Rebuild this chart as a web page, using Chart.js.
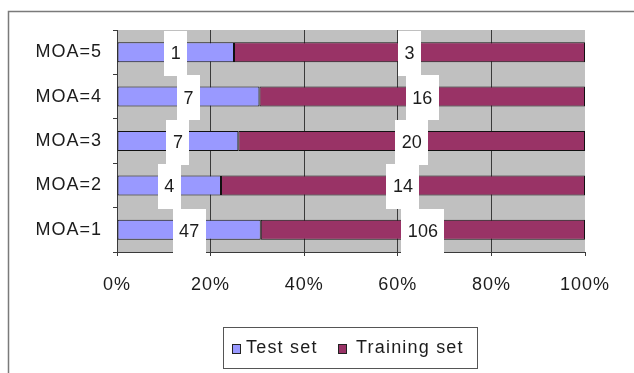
<!DOCTYPE html>
<html>
<head>
<meta charset="utf-8">
<script src="https://cdn.jsdelivr.net/npm/chart.js@4.4.1/dist/chart.umd.min.js"></script>
<style>
  html, body { margin: 0; padding: 0; background: #fff; }
  #wrap { width: 634px; height: 373px; position: relative; }
</style>
</head>
<body>
<div id="wrap"><canvas id="c" width="634" height="373"></canvas></div>
<script>
// Categories, top to bottom
const categories = ['MOA=5', 'MOA=4', 'MOA=3', 'MOA=2', 'MOA=1'];
// Compound counts per MOA class
const testSet = [1, 7, 7, 4, 47];
const trainingSet = [3, 16, 20, 14, 106];
// Axis tick labels (percent of class total)
const xTicks = [0, 20, 40, 60, 80, 100];

const seriesNames = ['Test set', 'Training set'];
const seriesColors = ['#9999FF', '#993366'];
const counts = [testSet, trainingSet];

// share of each class total, so the bars stack to 100 %
const totals = categories.map((_, i) => testSet[i] + trainingSet[i]);
const shares = counts.map(arr => arr.map((v, i) => v / totals[i] * 100));

const FONT = "'Liberation Sans', Arial, sans-serif";
const TEXT = '#1c1c1c';
const LINE = '#3a3a3a';

function spacing(chart) { chart.ctx.letterSpacing = '1px'; }

const framePlugin = {
  id: 'frame',
  beforeLayout(chart) { spacing(chart); },
  beforeDraw(chart) {
    spacing(chart);
    const ctx = chart.ctx, a = chart.chartArea;
    ctx.save();
    ctx.fillStyle = '#ffffff';
    ctx.fillRect(0, 0, chart.width, chart.height);
    // outer chart frame (top and left edges)
    ctx.strokeStyle = '#7a7a7a';
    ctx.lineWidth = 1.5;
    ctx.beginPath();
    ctx.moveTo(chart.width, 11.5);
    ctx.lineTo(8.5, 11.5);
    ctx.lineTo(8.5, chart.height);
    ctx.stroke();
    // plot area fill
    ctx.fillStyle = '#C0C0C0';
    ctx.fillRect(a.left, a.top, a.right - a.left, a.bottom - a.top);
    ctx.restore();
  }
};

// white count labels centred on each segment
const countLabels = {
  id: 'countLabels',
  afterDatasetsDraw(chart) {
    const ctx = chart.ctx;
    const yScale = chart.scales.y;
    const band = yScale.height / categories.length;
    ctx.save();
    ctx.letterSpacing = '0px';
    ctx.font = '18px ' + FONT;
    ctx.textAlign = 'center';
    ctx.textBaseline = 'middle';
    chart.data.datasets.forEach((ds, di) => {
      const meta = chart.getDatasetMeta(di);
      meta.data.forEach((bar, j) => {
        const p = bar.getProps(['x', 'base', 'y'], true);
        const cx = (p.x + p.base) / 2;
        const txt = String(counts[di][j]);
        const w = ctx.measureText(txt).width + 13;
        ctx.fillStyle = '#ffffff';
        ctx.fillRect(Math.round(cx - w / 2), Math.round(p.y - band / 2 + 1), Math.round(w), Math.round(band + 1));
        ctx.fillStyle = TEXT;
        ctx.fillText(txt, cx, p.y + 2);
      });
    });
    ctx.restore();
  }
};

// boxed legend under the axis
const boxedLegend = {
  id: 'boxedLegend',
  afterDraw(chart) {
    const ctx = chart.ctx;
    ctx.save();
    ctx.letterSpacing = '1.2px';
    ctx.font = '18px ' + FONT;
    ctx.textBaseline = 'middle';
    const bx = 223.5, by = 327.5, bw = 254, bh = 41;
    ctx.fillStyle = '#ffffff';
    ctx.fillRect(bx, by, bw, bh);
    ctx.strokeStyle = '#555';
    ctx.lineWidth = 1;
    ctx.strokeRect(bx, by, bw, bh);
    const cy = by + bh / 2;
    const markerX = [232, 338];
    const textX = [246, 356];
    chart.data.datasets.forEach((ds, i) => {
      ctx.fillStyle = ds.backgroundColor;
      ctx.fillRect(markerX[i], cy - 4, 8, 9);
      ctx.strokeStyle = '#222';
      ctx.strokeRect(markerX[i] + 0.5, cy - 3.5, 8, 9);
      ctx.fillStyle = TEXT;
      ctx.fillText(ds.label, textX[i], cy);
    });
    ctx.restore();
  }
};

new Chart(document.getElementById('c'), {
  type: 'bar',
  data: {
    labels: categories,
    datasets: shares.map((s, i) => ({
      label: seriesNames[i],
      data: s,
      backgroundColor: seriesColors[i],
      borderColor: '#111',
      borderWidth: 1,
      borderSkipped: false,
      barPercentage: 0.45,
      categoryPercentage: 1.0
    }))
  },
  options: {
    indexAxis: 'y',
    responsive: false,
    animation: false,
    devicePixelRatio: 1,
    layout: { padding: { top: 30, right: 49, left: 0, bottom: 71 } },
    plugins: {
      legend: { display: false },
      tooltip: { enabled: false }
    },
    scales: {
      x: {
        stacked: true,
        min: 0,
        max: 100,
        afterBuildTicks(scale) { scale.ticks = xTicks.map(v => ({ value: v })); },
        afterFit(scale) { scale.height = 50; },
        ticks: {
          color: TEXT,
          font: { family: FONT, size: 18 },
          padding: 18,
          maxRotation: 0,
          callback: v => v + '%'
        },
        grid: {
          color: c => (c.tick && c.tick.value === 100 ? 'rgba(0,0,0,0)' : LINE),
          tickColor: LINE,
          lineWidth: 1,
          tickLength: 4,
          drawTicks: true
        },
        border: { display: true, color: LINE, width: 1 }
      },
      y: {
        stacked: true,
        afterFit(scale) { scale.width = 117; },
        ticks: {
          color: TEXT,
          font: { family: FONT, size: 18 },
          padding: 11
        },
        grid: { drawOnChartArea: false, drawTicks: true, tickLength: 4, color: LINE, offset: true },
        border: { display: true, color: LINE, width: 1 }
      }
    }
  },
  plugins: [framePlugin, countLabels, boxedLegend]
});
</script>
</body>
</html>
